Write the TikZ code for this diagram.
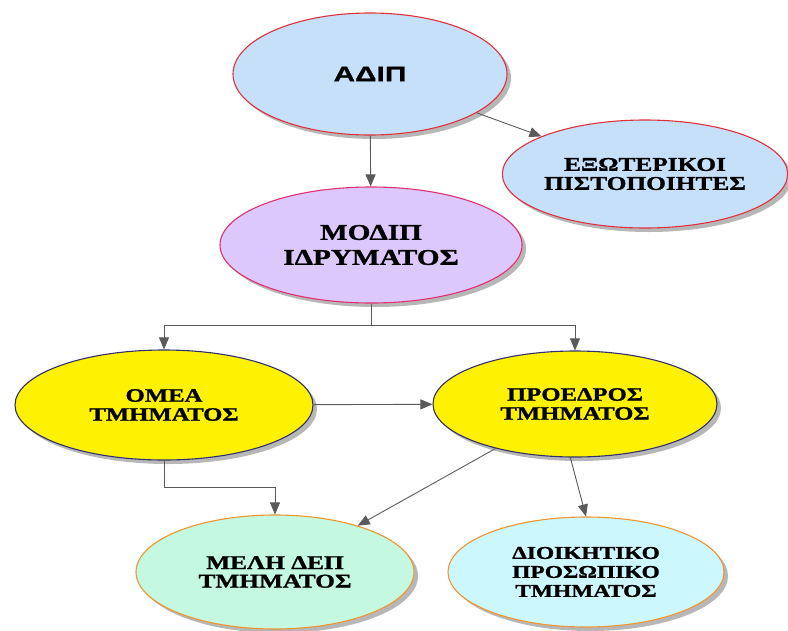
\documentclass[tikz,border=0pt]{standalone}
\usepackage{fontspec}
\setmainfont{Liberation Serif}
\newfontfamily\widetimes{Liberation Serif}[FakeStretch=1.3,FakeBold=1.2]
\newfontfamily\widearial{Liberation Sans}[FakeStretch=1.42,FakeBold=1]
\usepackage{tikz}
\usetikzlibrary{arrows.meta,positioning,shapes.geometric,shadows,calc}

\definecolor{skyfill}{HTML}{C6E0FA}
\definecolor{lilacfill}{HTML}{DCC8FA}
\definecolor{mintfill}{HTML}{C4F8E0}
\definecolor{icefill}{HTML}{CCF8FD}
\definecolor{redline}{HTML}{E0303C}
\definecolor{pinkline}{HTML}{E03070}
\definecolor{navyline}{HTML}{303070}
\definecolor{orangeline}{HTML}{F09430}
\definecolor{linkgray}{HTML}{5A5A5A}

\begin{document}
\begin{tikzpicture}[x=1pt,y=-1pt,
		bubble/.style={ellipse,draw,line width=1.1pt,inner sep=0pt,align=center,
			font=\widetimes\bfseries\fontsize{19}{19}\selectfont,
			drop shadow={shadow xshift=4pt,shadow yshift=-4pt,opacity=0.4,fill=black!70}},
		arr/.style={draw=linkgray,line width=0.9pt,-{Triangle[length=12pt,width=10pt]}}]
				\useasboundingbox (0,0) rectangle (788,630);

				% Top level
				\node[bubble,fill=skyfill,draw=redline,minimum width=274pt,minimum height=122pt,
					font=\widearial\bfseries\fontsize{21}{24}\selectfont] (adip) at (370,74) {ΑΔΙΠ};
				\node[bubble,fill=skyfill,draw=redline,minimum width=266pt,minimum height=108pt,
					font=\widetimes\bfseries\fontsize{19.5}{19}\selectfont] (ext) at (645,174) {ΕΞΩΤΕΡΙΚΟΙ\\ΠΙΣΤΟΠΟΙΗΤΕΣ};
				\node[bubble,fill=lilacfill,draw=pinkline,minimum width=302pt,minimum height=116pt,
					font=\widetimes\bfseries\fontsize{22.5}{25}\selectfont] (modip) at (371,245) {ΜΟΔΙΠ\\ΙΔΡΥΜΑΤΟΣ};

				% Department level
				\node[bubble,fill=yellow,draw=navyline,minimum width=298pt,minimum height=110pt] (omea) at (164,405) {ΟΜΕΑ\\ΤΜΗΜΑΤΟΣ};
				\node[bubble,fill=yellow,draw=navyline,minimum width=284pt,minimum height=106pt] (pres) at (575,404) {ΠΡΟΕΔΡΟΣ\\ΤΜΗΜΑΤΟΣ};

				% Staff
				\node[bubble,fill=mintfill,draw=orangeline,minimum width=278pt,minimum height=114pt,
					font=\widetimes\bfseries\fontsize{19.5}{18.5}\selectfont] (meli) at (275,572) {ΜΕΛΗ ΔΕΠ\\ΤΜΗΜΑΤΟΣ};
				\node[bubble,fill=icefill,draw=orangeline,minimum width=276pt,minimum height=110pt,
					font=\widetimes\bfseries\fontsize{18}{19}\selectfont] (admin) at (586,572) {ΔΙΟΙΚΗΤΙΚΟ\\ΠΡΟΣΩΠΙΚΟ\\ΤΜΗΜΑΤΟΣ};

				% Links
				\coordinate (split) at (371,325);
				\draw[arr] (adip) -- (modip);
				\draw[arr] (adip) -- (ext);
				\draw[draw=linkgray,line width=0.9pt] (modip) -- (split);
				\draw[arr] (split) -| (omea);
				\draw[arr] (split) -| (pres);
				\draw[arr] (omea) -- (pres);
				\draw[arr] (omea.south) -- ++(0,27) -| (meli.north);
				\draw[arr] (pres) -- (meli);
				\draw[arr] (pres.265) -- (admin.north);
			\end{tikzpicture}
\end{document}
